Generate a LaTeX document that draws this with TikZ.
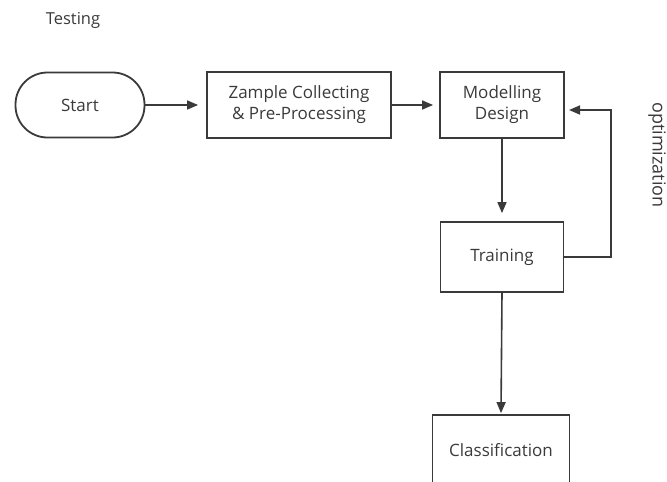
\documentclass[tikz,border=0pt]{standalone}
\usepackage{fontspec}
\setmainfont{Open Sans}
\usetikzlibrary{arrows.meta}
\definecolor{linegray}{HTML}{3A3A3A}
\tikzset{%
  stepbox/.style  = {shape=rectangle, draw=linegray, line width=1.8pt,%
                     align=center, text=linegray, font=\fontsize{17}{21}\selectfont},%
  terminal/.style = {stepbox, rounded corners=32pt},%
  flow/.style     = {draw=linegray, line width=1.6pt,%
                     -{Triangle[length=11pt,width=9pt]}},%
  caption/.style  = {text=linegray, font=\fontsize{16.5}{20}\selectfont}%
}
\begin{document}
\begin{tikzpicture}[x=1pt,y=-1pt]%
	\clip (0,0) rectangle (667,482);
	\node (testing) at (73,20) [caption] {Testing};%
	\node (start) at (80,105) [terminal, minimum width=129pt, minimum height=65pt] {Start};%
	\node (sample) at (299,105) [stepbox, minimum width=184pt, minimum height=66pt]%
		{Zample Collecting\\ \& Pre-Processing};%
	\node (model) at (502,105) [stepbox, minimum width=124pt, minimum height=66pt]%
		{Modelling\\ Design};%
	\node (train) at (502,257) [stepbox, minimum width=123pt, minimum height=70pt] {Training};%
	\node (classify) at (501,450) [stepbox, minimum width=137pt, minimum height=70pt] {Classification};%
	\node (optim) at (657,155) [caption, font=\fontsize{18}{22}\selectfont, inner sep=1pt, rotate=-90] {optimization};%
	\coordinate (turn) at (611,257);%
	\coordinate (entry) at (563,110);%
	% connectors
	\draw [flow, shorten >=8pt] (start.east) -- (sample.west);%
	\draw [flow, shorten >=6pt] (sample.east) -- (model.west);%
	\draw [flow, shorten >=8pt] (model.south) -- (train.north);%
	\draw [flow, shorten >=1pt] (train.south) -- (classify.north);%
	\draw [flow, shorten >=6pt] (train.east) -- (turn) |- (entry);%
\end{tikzpicture}
\end{document}
